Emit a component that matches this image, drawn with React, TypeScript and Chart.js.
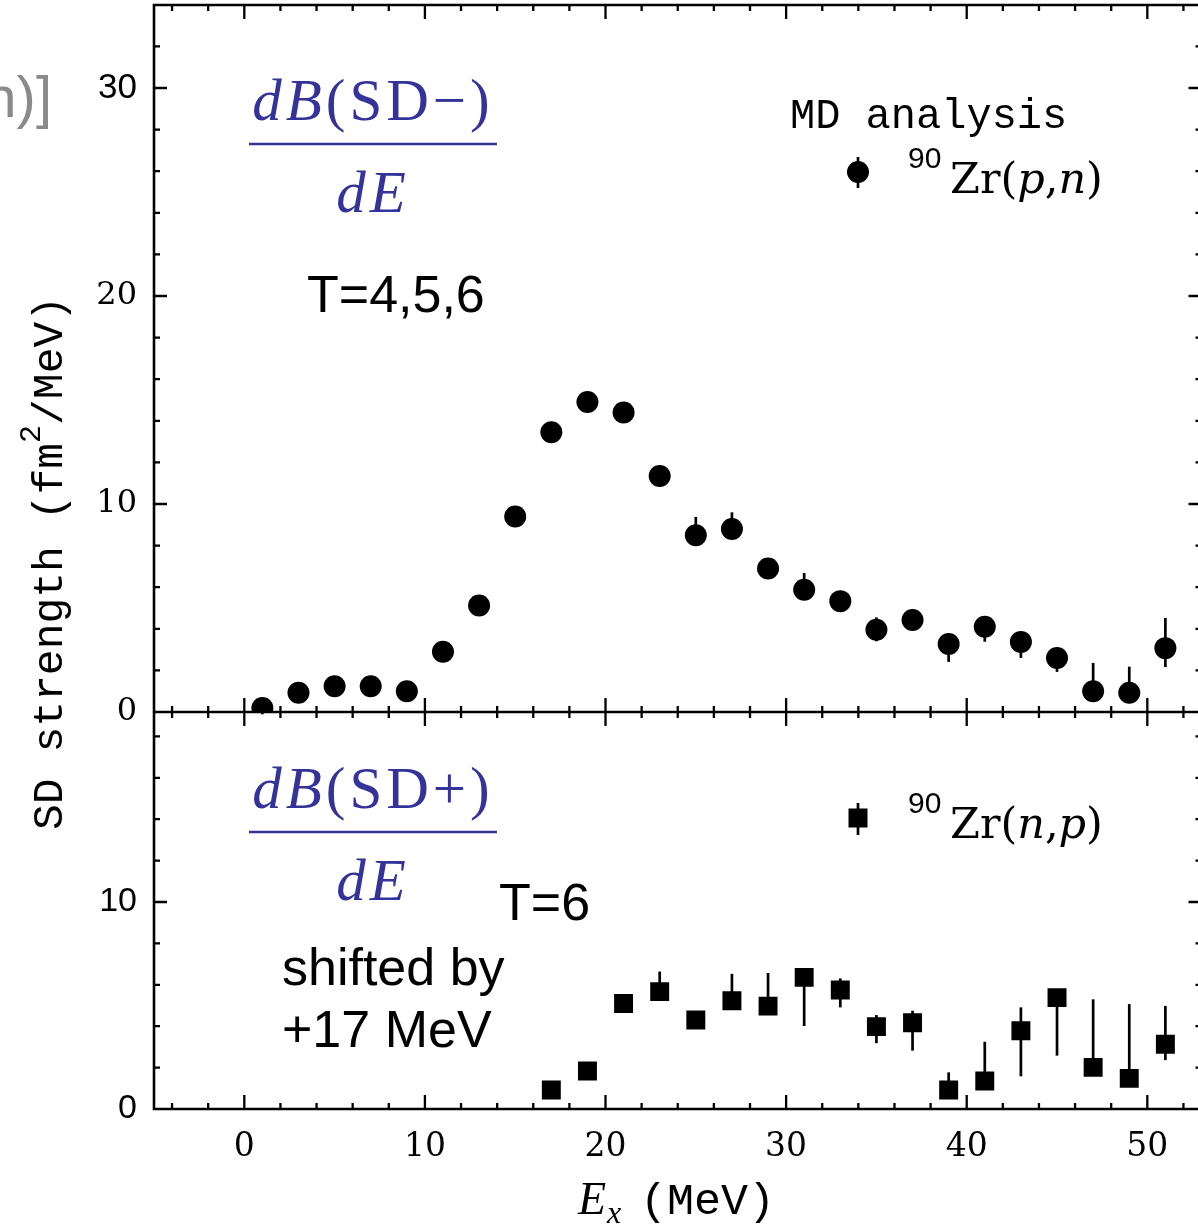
import { useEffect, useRef } from "react";
import { Chart, registerables } from "chart.js";

Chart.register(...registerables);

// ---------- data ----------
const energiesPN = [1, 3, 5, 7, 9, 11, 13, 15, 17, 19, 21, 23, 25, 27, 29, 31, 33, 35, 37, 39, 41, 43, 45, 47, 49, 51];
const strengthPN = [0.19, 0.93, 1.24, 1.24, 1.0, 2.9, 5.12, 9.4, 13.45, 14.9, 14.4, 11.35, 8.5, 8.8, 6.9, 5.88, 5.33, 3.95, 4.42, 3.27, 4.1, 3.37, 2.6, 1.0, 0.93, 3.07];
const errUpPN = [0.3, 0.3, 0.3, 0.3, 0.3, 0.35, 0.4, 0.4, 0.4, 0.4, 0.4, 0.4, 0.88, 0.8, 0.4, 0.8, 0.45, 0.6, 0.45, 0.45, 0.45, 0.45, 0.45, 1.36, 1.25, 1.45];
const errDownPN = [0.3, 0.3, 0.3, 0.3, 0.3, 0.35, 0.4, 0.4, 0.4, 0.4, 0.4, 0.4, 0.45, 0.45, 0.4, 0.45, 0.45, 0.55, 0.45, 0.86, 0.72, 0.77, 0.67, 0.45, 0.45, 0.91];

const energiesNP = [17, 19, 21, 23, 25, 27, 29, 31, 33, 35, 37, 39, 41, 43, 45, 47, 49, 51];
const strengthNP = [0.92, 1.84, 5.1, 5.67, 4.3, 5.23, 4.97, 6.36, 5.75, 3.98, 4.17, 0.92, 1.35, 3.78, 5.38, 2.01, 1.48, 3.13];
const errUpNP = [0.3, 0.3, 0.3, 0.97, 0.3, 1.3, 1.6, 0.4, 0.56, 0.56, 0.58, 0.85, 1.9, 1.13, 0.4, 3.29, 3.59, 1.85];
const errDownNP = [0.3, 0.3, 0.3, 0.4, 0.3, 0.4, 0.4, 2.35, 0.84, 0.8, 1.35, 0.4, 0.4, 2.2, 2.8, 0.4, 0.4, 0.77];

const xTickValues = [0, 10, 20, 30, 40, 50];
const yTopTickValues = [0, 10, 20, 30];
const yBottomTickValues = [0, 10];

// ---------- styles ----------
const SANS = '"Liberation Sans", Arial, sans-serif';
const CMSERIF = '"DejaVu Serif", serif';
const TIMES = '"Liberation Serif", "Times New Roman", serif';
const MONO = '"Liberation Mono", "Courier New", monospace';
const BLUE = "#33339a";

function txt(ctx: CanvasRenderingContext2D, s: string, x: number, y: number, font: string, color = "#000", align: CanvasTextAlign = "left") {
  ctx.font = font;
  ctx.fillStyle = color;
  ctx.textAlign = align;
  ctx.textBaseline = "alphabetic";
  ctx.fillText(s, x, y);
  return ctx.measureText(s).width;
}

function drawFraction(ctx: CanvasRenderingContext2D, sign: string, cx: number, numBase: number, barY: number, denBase: number) {
  ctx.save();
  (ctx as any).letterSpacing = "4px";
  const it = `italic 59px ${TIMES}`;
  const rm = `59px ${TIMES}`;
  const parts: [string, string][] = [["d", it], ["B", it], ["(SD" + sign + ")", rm]];
  let total = 0;
  for (const [s, f] of parts) { ctx.font = f; total += ctx.measureText(s).width; }
  let x = cx - total / 2;
  for (const [s, f] of parts) { x += txt(ctx, s, x, numBase, f, BLUE); }
  ctx.font = it;
  const dw = ctx.measureText("dE").width;
  txt(ctx, "dE", cx - dw / 2, denBase, it, BLUE);
  ctx.restore();
  ctx.save();
  ctx.strokeStyle = BLUE;
  ctx.lineWidth = 2.6;
  ctx.beginPath();
  ctx.moveTo(cx - 124, barY);
  ctx.lineTo(cx + 124, barY);
  ctx.stroke();
  ctx.restore();
}

function drawReaction(ctx: CanvasRenderingContext2D, x: number, base: number, a: string, b: string) {
  txt(ctx, "90", x, base - 25, `30px ${SANS}`);
  let px = x + 42;
  const rm = `43px ${CMSERIF}`;
  const it = `italic 43px ${CMSERIF}`;
  px += txt(ctx, "Zr(", px, base, rm);
  px += txt(ctx, a, px, base, it);
  px += txt(ctx, ",", px, base, rm);
  px += txt(ctx, b, px, base, it);
  txt(ctx, ")", px, base, rm);
}

const framePlugin = {
  id: "frame",
  beforeDatasetsDraw(chart: any) {
    const { ctx, chartArea } = chart;
    const { left, right, top, bottom } = chartArea;
    const xs = chart.scales.x, yT = chart.scales.yTop, yB = chart.scales.yBot;
    const mid = yT.getPixelForValue(0);
    ctx.save();
    ctx.strokeStyle = "#000";
    ctx.lineWidth = 2.6;
    ctx.beginPath();
    ctx.rect(left, top, right - left, bottom - top);
    ctx.moveTo(left, mid);
    ctx.lineTo(right, mid);
    ctx.stroke();
    ctx.lineWidth = 2.3;
    ctx.beginPath();
    for (let v = Math.ceil(xs.min / 2) * 2; v <= xs.max; v += 2) {
      const px = xs.getPixelForValue(v);
      const L = v % 10 === 0 ? 14 : 6;
      ctx.moveTo(px, top); ctx.lineTo(px, top + L);
      ctx.moveTo(px, mid - L); ctx.lineTo(px, mid + L);
      ctx.moveTo(px, bottom); ctx.lineTo(px, bottom - L);
    }
    for (const s of [yT, yB]) {
      for (let v = 2; v < s.max; v += 2) {
        const py = s.getPixelForValue(v);
        const L = v % 10 === 0 ? 13 : 6;
        ctx.moveTo(left, py); ctx.lineTo(left + L, py);
        ctx.moveTo(right, py); ctx.lineTo(right - L, py);
      }
    }
    ctx.stroke();
    ctx.restore();
  },
};

const errorBarPlugin = {
  id: "errbars",
  beforeDatasetsDraw(chart: any) {
    const { ctx } = chart;
    ctx.save();
    ctx.strokeStyle = "#000";
    ctx.lineWidth = 2.7;
    chart.data.datasets.forEach((ds: any, di: number) => {
      const meta = chart.getDatasetMeta(di);
      const ys = chart.scales[ds.yAxisID];
      meta.data.forEach((el: any, i: number) => {
        const v = ds.data[i].y;
        ctx.beginPath();
        ctx.moveTo(el.x, ys.getPixelForValue(v + ds.errUp[i]));
        ctx.lineTo(el.x, ys.getPixelForValue(v - ds.errDown[i]));
        ctx.stroke();
      });
    });
    ctx.restore();
  },
};

const annotationPlugin = {
  id: "annot",
  afterDraw(chart: any) {
    const { ctx } = chart;
    ctx.save();
    // cropped text at far left
    txt(ctx, "n)]", 52, 117, `58px ${SANS}`, "#8a8a8a", "right");

    // fractions
    drawFraction(ctx, "\u2212", 373, 120, 144, 212);
    drawFraction(ctx, "+", 373, 808, 832, 900);

    // T labels
    txt(ctx, "T=4,5,6", 307, 312, `52px ${SANS}`);
    txt(ctx, "T=6", 499, 920, `52px ${SANS}`);
    txt(ctx, "shifted by", 282, 985, `52px ${SANS}`);
    txt(ctx, "+17 MeV", 282, 1047, `52px ${SANS}`);

    // legend top
    txt(ctx, "MD analysis", 790, 128, `42px ${MONO}`);
    ctx.fillStyle = "#000";
    ctx.strokeStyle = "#000";
    ctx.lineWidth = 2.7;
    ctx.beginPath(); ctx.moveTo(858, 157); ctx.lineTo(858, 188); ctx.stroke();
    ctx.beginPath(); ctx.arc(858, 172, 11, 0, Math.PI * 2); ctx.fill();
    drawReaction(ctx, 908, 193, "p", "n");

    // legend bottom
    ctx.beginPath(); ctx.moveTo(858, 803); ctx.lineTo(858, 835); ctx.stroke();
    ctx.fillRect(848.5, 808.5, 19, 19);
    drawReaction(ctx, 908, 838, "n", "p");

    // y title (rotated)
    ctx.save();
    ctx.translate(62, 830);
    ctx.rotate(-Math.PI / 2);
    let p = 0;
    p += txt(ctx, "SD strength (fm", p, 0, `43px ${MONO}`);
    p += txt(ctx, "2", p, -22, `30px ${MONO}`);
    txt(ctx, "/MeV)", p, 0, `43px ${MONO}`);
    ctx.restore();

    // x title
    txt(ctx, "E", 578, 1214, `italic 46px ${TIMES}`);
    txt(ctx, "x", 607, 1223, `italic 32px ${TIMES}`);
    txt(ctx, "(MeV)", 640, 1214, `45px ${MONO}`);
    ctx.restore();
  },
};

export default function App() {
  const ref = useRef<HTMLCanvasElement>(null);
  useEffect(() => {
    const canvas = ref.current!;
    const chart = new Chart(canvas, {
      type: "scatter",
      data: {
        datasets: [
          {
            label: "90Zr(p,n)",
            data: energiesPN.map((x, i) => ({ x, y: strengthPN[i] })),
            yAxisID: "yTop",
            pointStyle: "circle",
            pointRadius: 11,
            backgroundColor: "#000",
            borderWidth: 0,
            errUp: errUpPN,
            errDown: errDownPN,
          } as any,
          {
            label: "90Zr(n,p)",
            data: energiesNP.map((x, i) => ({ x, y: strengthNP[i] })),
            yAxisID: "yBot",
            pointStyle: "rect",
            pointRadius: 13.4,
            backgroundColor: "#000",
            borderWidth: 0,
            errUp: errUpNP,
            errDown: errDownNP,
          } as any,
        ],
      },
      options: {
        animation: false,
        responsive: false,
        events: [],
        layout: { autoPadding: false, padding: { left: 0, top: 5, right: 13.5, bottom: 0 } },
        plugins: { legend: { display: false }, tooltip: { enabled: false } },
        scales: {
          x: {
            type: "linear",
            position: "bottom",
            min: -5,
            max: 53,
            grid: { display: false, drawTicks: false },
            border: { display: false },
            ticks: { padding: 19, color: "#000", autoSkip: false, maxRotation: 0, font: { family: CMSERIF, size: 33 } },
            afterBuildTicks: (s: any) => { s.ticks = xTickValues.map((v) => ({ value: v })); },
            afterFit: (s: any) => { s.height = 115; s.paddingLeft = 0; s.paddingRight = 0; },
          },
          yTop: {
            type: "linear",
            position: "left",
            stack: "panels",
            stackWeight: 707,
            weight: 1,
            min: 0,
            max: 33.99,
            grid: { display: false, drawTicks: false },
            border: { display: false },
            ticks: {
              padding: 17,
              color: "#000",
              autoSkip: false,
              font: (c: any) => (c.tick && c.tick.value === 30 ? { family: SANS, size: 35 } : { family: CMSERIF, size: 32 }),
            },
            afterBuildTicks: (s: any) => { s.ticks = yTopTickValues.map((v) => ({ value: v })); },
            afterFit: (s: any) => { s.width = 154; s.paddingTop = 0; s.paddingBottom = 0; },
          },
          yBot: {
            type: "linear",
            position: "left",
            stack: "panels",
            stackWeight: 397,
            weight: 0,
            min: 0,
            max: 19.18,
            grid: { display: false, drawTicks: false },
            border: { display: false },
            ticks: { padding: 17, color: "#000", autoSkip: false, font: { family: SANS, size: 34 } },
            afterBuildTicks: (s: any) => { s.ticks = yBottomTickValues.map((v) => ({ value: v })); },
            afterFit: (s: any) => { s.width = 154; s.paddingTop = 0; s.paddingBottom = 0; },
          },
        } as any,
      },
      plugins: [framePlugin, errorBarPlugin, annotationPlugin],
    });
    return () => chart.destroy();
  }, []);
  return (
    <div style={{ position: "absolute", left: 0, top: 0, width: 1198, height: 1224, overflow: "hidden", background: "#fff" }}>
      <canvas ref={ref} width={1215} height={1224} style={{ display: "block", width: 1215, height: 1224 }} />
    </div>
  );
}
